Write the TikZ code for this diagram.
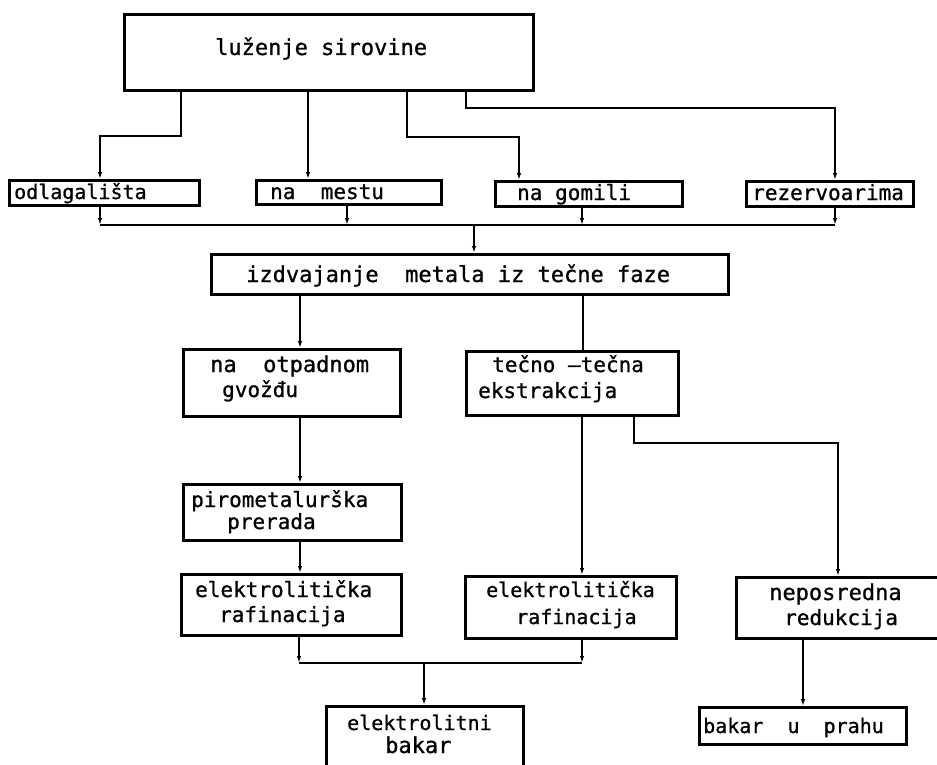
\documentclass[tikz,border=0pt]{standalone}
\usepackage{fontspec}
\setmainfont[FakeBold=0.9]{DejaVu Sans Mono}
\usetikzlibrary{arrows.meta}

\newcommand{\fsz}[1]{\fontsize{#1}{#1}\selectfont}

\tikzset{
  box/.style={draw=black, line width=2.8pt, rectangle, inner sep=0pt, anchor=north west},
  conn/.style={draw=black, line width=1.8pt, line join=miter},
  arr/.style={conn, -{Latex[length=7pt,width=4.5pt]}},
  lbl/.style={anchor=base west, inner sep=0pt, font=\fsz{21}},
}

\begin{document}
\begin{tikzpicture}[x=1pt, y=-1pt]
\useasboundingbox (0,0) rectangle (937,765);
\fill[white] (0,0) rectangle (937,765);
\clip (0,0) rectangle (937,765);

% ---------- boxes ----------
\node[box, minimum width=409, minimum height=76] (lz)  at (123,13) {};
\node[box, minimum width=190, minimum height=25] (odl) at (8,179)  {};
\node[box, minimum width=185, minimum height=24] (mes) at (255,179) {};
\node[box, minimum width=187, minimum height=25] (gom) at (494,180) {};
\node[box, minimum width=167, minimum height=25] (rez) at (745,180) {};
\node[box, minimum width=517, minimum height=40] (izd) at (210,253) {};
\node[box, minimum width=217, minimum height=67] (otp) at (182,348) {};
\node[box, minimum width=212, minimum height=64] (tec) at (465,350) {};
\node[box, minimum width=218, minimum height=56] (pir) at (182,483) {};
\node[box, minimum width=220, minimum height=61] (el1) at (180,573) {};
\node[box, minimum width=211, minimum height=62] (el2) at (464,575) {};
\node[box, minimum width=230, minimum height=61] (nep) at (735,576) {};
\node[box, minimum width=197, minimum height=80] (ebk) at (325,705) {};
\node[box, minimum width=207, minimum height=37] (bup) at (698,706) {};

% ---------- labels ----------
\node[lbl, font=\fsz{22}] (t-lz) at (215,55) {luženje\ sirovine};
\node[lbl, font=\fsz{20}] (t-odl) at (14,199) {odlagališta};
\node[lbl] (t-mes) at (270,199) {na\ \ mestu};
\node[lbl] (t-gom) at (517,200) {na\ gomili};
\node[lbl] (t-rez) at (752,200) {rezervoarima};
\node[lbl, font=\fsz{22}] (t-izd) at (246,282) {izdvajanje\ \ metala iz tečne faze};
\node[lbl, font=\fsz{22}] (t-otp1) at (210,372) {na\ \ otpadnom};
\node[lbl] (t-otp2) at (222,397) {gvožđu};
\node[lbl] (t-tec1) at (492,372) {tečno –tečna};
\node[lbl] (t-tec2) at (478,398) {ekstrakcija};
\node[lbl] (t-pir1) at (191,507) {pirometalurška};
\node[lbl] (t-pir2) at (227,529) {prerada};
\node[lbl] (t-el11) at (195,597) {elektrolitička};
\node[lbl] (t-el12) at (219,622) {rafinacija};
\node[lbl, font=\fsz{20}] (t-el21) at (486,597) {elektrolitička};
\node[lbl, font=\fsz{20}] (t-el22) at (516,624) {rafinacija};
\node[lbl, font=\fsz{22}] (t-nep1) at (769,600) {neposredna};
\node[lbl] (t-nep2) at (784,625) {redukcija};
\node[lbl, font=\fsz{20}] (t-ebk1) at (347,730) {elektrolitni};
\node[lbl, font=\fsz{22}] (t-ebk2) at (385,753) {bakar};
\node[lbl, font=\fsz{20}] (t-bup) at (703,733) {bakar\ \ u\ \ prahu};

% ---------- junction points ----------
\coordinate (a1) at (181,136);  \coordinate (a1e) at (100,136);
\coordinate (a2) at (308,136);
\coordinate (a3) at (407,137);  \coordinate (a3e) at (519,137);
\coordinate (a4) at (466,108);  \coordinate (a4e) at (835,108);
\coordinate (busL) at (100,225); \coordinate (busR) at (835,225);
\coordinate (busA) at (347,225); \coordinate (busB) at (582,225);
\coordinate (busM) at (474,225);
\coordinate (d1) at (300,300);  \coordinate (d2) at (583,300);
\coordinate (e1) at (634,443);  \coordinate (e1e) at (838,443);
\coordinate (f1) at (582,443);
\coordinate (g1) at (299,663);  \coordinate (g2) at (582,663);
\coordinate (gM) at (424,663);
\coordinate (h1) at (803,680);

% ---------- first stage: leaching variants ----------
\draw[arr] (lz.south -| a1) -- (a1) -- (a1e) -- (odl.north -| a1e);
\draw[arr] (lz.south -| a2) -- (mes.north -| a2);
\draw[arr] (lz.south -| a3) -- (a3) -- (a3e) -- (gom.north -| a3e);
\draw[arr] (lz.south -| a4) -- (a4) -- (a4e) -- (rez.north -| a4e);

% ---------- collecting bus ----------
\draw[arr] (odl.south -| busL) -- (busL);
\draw[arr] (mes.south -| busA) -- (busA);
\draw[arr] (gom.south -| busB) -- (busB);
\draw[arr] (rez.south -| busR) -- (busR);
\draw[conn] (busL) -- (busR);
\draw[arr] (busM) -- (izd.north -| busM);

% ---------- metal recovery ----------
\draw[arr] (izd.south -| d1) -- (otp.north -| d1);
\draw[conn] (izd.south -| d2) -- (tec.north -| d2);
\draw[arr] (otp.south -| d1) -- (pir.north -| d1);
\draw[arr] (pir.south -| d1) -- (el1.north -| d1);
\draw[arr] (tec.south -| f1) -- (el2.north -| f1);
\draw[arr] (tec.south -| e1) -- (e1) -- (e1e) -- (nep.north -| e1e);

% ---------- products ----------
\draw[arr] (el1.south -| g1) -- (g1);
\draw[arr] (el2.south -| g2) -- (g2);
\draw[conn] (g1) -- (g2);
\draw[arr] (gM) -- (ebk.north -| gM);
\draw[arr] (nep.south -| h1) -- (bup.north -| h1);
\end{tikzpicture}
\end{document}
